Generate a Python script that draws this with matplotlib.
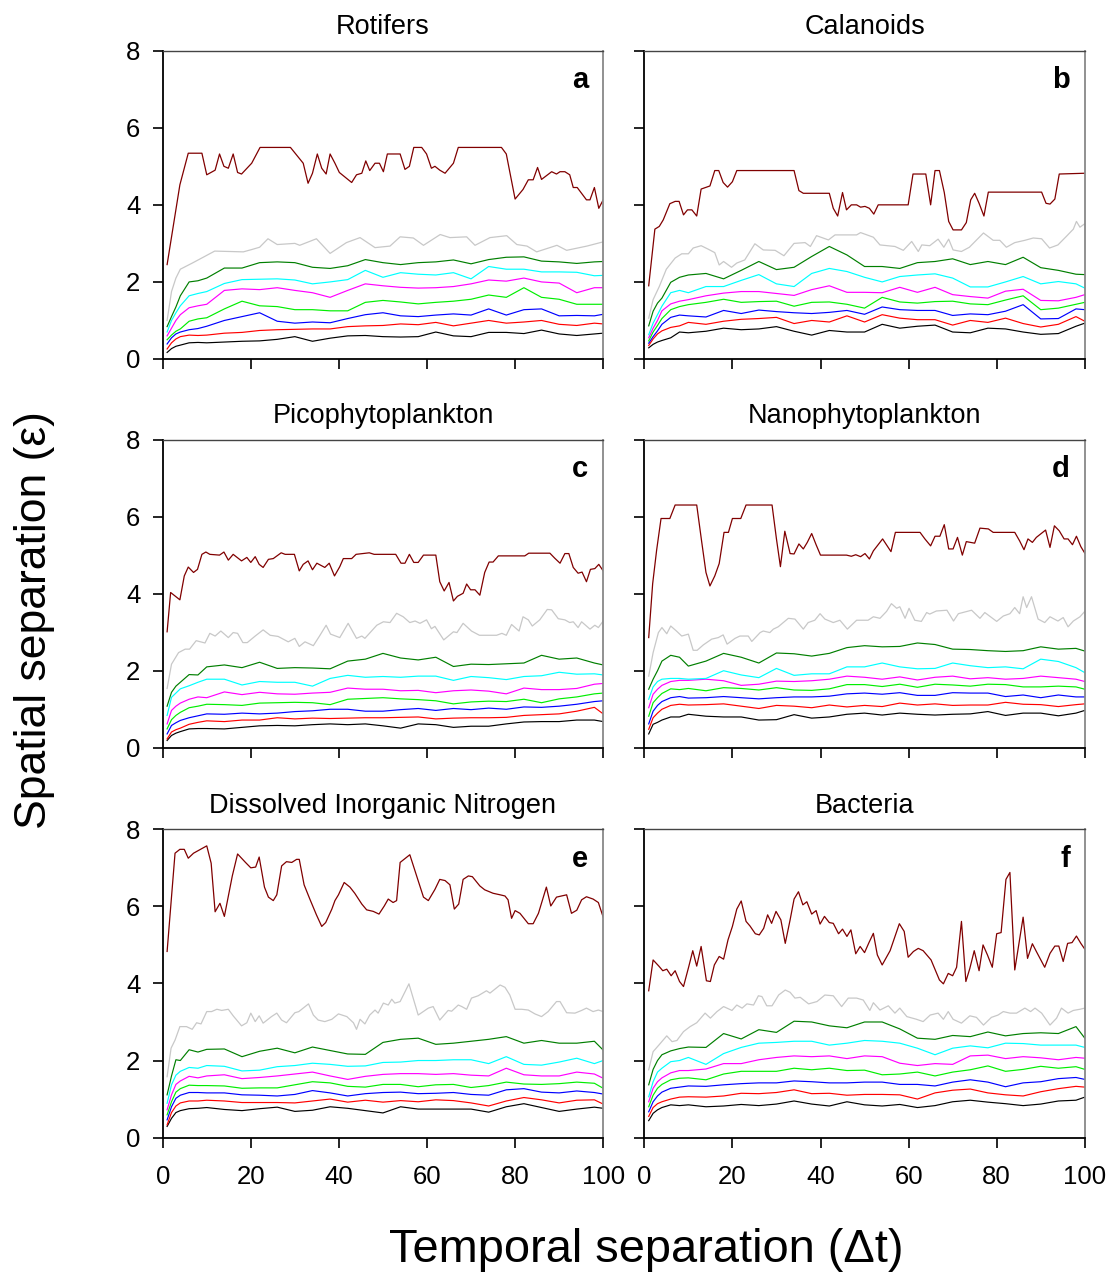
import matplotlib
matplotlib.use("Agg")
import matplotlib.pyplot as plt

plt.rcParams['font.family'] = ['Liberation Sans', 'DejaVu Sans']

# Common x grid for the seven lower series (temporal separation)
X = [1, 2, 3, 4, 6, 8, 10, 14, 18, 22, 26, 30, 34, 38, 42, 46, 50, 54, 58, 62,
     66, 70, 74, 78, 82, 86, 90, 94, 98, 100]

titles = ["Rotifers", "Calanoids", "Picophytoplankton", "Nanophytoplankton",
          "Dissolved Inorganic Nitrogen", "Bacteria"]
letters = ["a", "b", "c", "d", "e", "f"]
xticks = [0, 20, 40, 60, 80, 100]
yticks = [0, 2, 4, 6, 8]

# ---------------- Panel a : Rotifers ----------------
a_k = [.17, .27, .33, .36, .42, .43, .42, .44, .46, .47, .51, .58, .46, .54, .6, .61, .58, .57, .58, .7, .6, .58, .69, .69, .66, .75, .65, .61, .65, .67]
a_r = [.26, .42, .52, .58, .62, .61, .62, .67, .69, .74, .76, .77, .78, .78, .84, .86, .87, .91, .89, .95, .86, .93, 1.0, .93, .96, 1.0, .9, .87, .93, .91]
a_b = [.39, .55, .65, .7, .76, .79, .85, 1.0, 1.1, 1.2, .98, .93, .96, .94, 1.05, 1.15, 1.2, 1.12, 1.1, 1.14, 1.17, 1.14, 1.3, 1.14, 1.28, 1.3, 1.12, 1.13, 1.12, 1.16]
a_g = [.5, .62, .72, .78, .98, 1.04, 1.07, 1.3, 1.5, 1.38, 1.36, 1.28, 1.28, 1.25, 1.25, 1.47, 1.52, 1.48, 1.43, 1.47, 1.5, 1.55, 1.66, 1.6, 1.85, 1.6, 1.55, 1.42, 1.42, 1.42]
a_m = [.6, .8, 1.0, 1.15, 1.33, 1.38, 1.42, 1.78, 1.82, 1.8, 1.85, 1.78, 1.72, 1.6, 1.78, 1.95, 1.9, 1.86, 1.84, 1.85, 1.88, 1.95, 2.05, 2.02, 2.1, 2.0, 1.97, 1.72, 1.85, 1.85]
a_c = [.7, 1.0, 1.2, 1.38, 1.64, 1.7, 1.75, 1.96, 2.06, 2.07, 2.08, 2.05, 1.95, 2.0, 2.06, 2.3, 2.12, 2.24, 2.2, 2.18, 2.24, 2.08, 2.4, 2.33, 2.33, 2.26, 2.26, 2.25, 2.16, 2.17]
a_dg = [.84, 1.1, 1.35, 1.64, 2.0, 2.03, 2.1, 2.36, 2.36, 2.5, 2.52, 2.5, 2.38, 2.35, 2.42, 2.58, 2.5, 2.45, 2.5, 2.52, 2.57, 2.47, 2.58, 2.64, 2.65, 2.54, 2.52, 2.48, 2.52, 2.53]
a_gy_x = [1, 2, 3, 4, 6.9, 11.8, 18.3, 20.2, 22, 23.9, 26, 30, 31.1, 34.9, 38, 41.7, 44.8, 48.2, 51.6, 53.9, 56.9, 59.2, 63, 65.2, 69, 70.9, 74.3, 78.1, 80.4, 82.7, 84.9, 89.5, 91.7, 96.3, 100]
a_gy_y = [1.0, 1.75, 2.1, 2.33, 2.5, 2.8, 2.78, 2.84, 2.9, 3.12, 2.97, 3.0, 2.95, 3.12, 2.74, 3.02, 3.15, 2.89, 2.93, 3.17, 3.14, 2.95, 3.23, 3.15, 3.17, 2.95, 3.15, 3.2, 2.97, 2.93, 2.78, 2.95, 2.82, 2.93, 3.04]
a_dr_x = [1, 3.9, 5.8, 8.9, 10, 11.9, 12.9, 13.9, 14.9, 16, 17, 17.9, 20.2, 22.1, 29, 31.9, 33, 34, 35.1, 36.1, 37.1, 38, 39.1, 40.1, 42.9, 44, 45.2, 46.1, 47, 48.2, 49.2, 50.1, 51, 53.9, 55, 56, 57, 58.8, 59.9, 61, 61.8, 62.9, 64.1, 66, 67.1, 76.9, 78, 80, 81.8, 83, 84.1, 85.1, 86, 88.3, 89.4, 90.2, 91.3, 92.4, 93.2, 94.1, 96.2, 97, 98, 99, 100]
a_dr_y = [2.45, 4.52, 5.34, 5.34, 4.78, 4.9, 5.32, 5.0, 4.95, 5.32, 4.84, 4.8, 5.08, 5.49, 5.49, 5.08, 4.56, 4.82, 5.32, 4.95, 4.8, 5.32, 5.08, 4.84, 4.58, 4.78, 4.82, 5.14, 4.89, 5.08, 5.08, 4.86, 5.32, 5.32, 4.92, 5.0, 5.49, 5.49, 5.32, 4.95, 5.0, 4.9, 4.82, 5.08, 5.49, 5.49, 5.32, 4.15, 4.4, 4.65, 4.65, 4.97, 4.66, 4.86, 4.8, 4.86, 4.86, 4.78, 4.45, 4.45, 4.13, 4.13, 4.45, 3.91, 4.13]

# ---------------- Panel b : Calanoids ----------------
b_k = [.29, .38, .44, .48, .55, .7, .68, .72, .8, .76, .78, .84, .72, .62, .74, .7, .7, .9, .8, .85, .88, .7, .68, .8, .78, .7, .64, .66, .85, .93]
b_r = [.35, .52, .65, .73, .82, .86, .95, .9, .98, 1.03, 1.05, 1.08, .92, 1.0, .96, 1.12, .96, 1.15, 1.06, 1.02, 1.02, .88, 1.0, .95, 1.06, .92, .83, .9, 1.1, .98]
b_b = [.41, .58, .73, .9, 1.08, 1.14, 1.12, 1.09, 1.26, 1.18, 1.27, 1.23, 1.2, 1.18, 1.21, 1.26, 1.16, 1.35, 1.28, 1.26, 1.26, 1.13, 1.17, 1.15, 1.24, 1.41, 1.04, 1.05, 1.3, 1.28]
b_g = [.47, .7, .87, 1.05, 1.28, 1.36, 1.41, 1.47, 1.55, 1.47, 1.49, 1.5, 1.37, 1.47, 1.48, 1.42, 1.32, 1.6, 1.48, 1.45, 1.49, 1.5, 1.43, 1.41, 1.53, 1.64, 1.28, 1.32, 1.42, 1.47]
b_m = [.55, .8, 1.0, 1.25, 1.43, 1.5, 1.54, 1.64, 1.71, 1.75, 1.75, 1.7, 1.65, 1.8, 1.9, 1.73, 1.73, 1.72, 1.86, 1.73, 1.86, 1.67, 1.62, 1.58, 1.76, 1.81, 1.52, 1.51, 1.6, 1.67]
b_c = [.63, .93, 1.15, 1.37, 1.72, 1.78, 1.72, 1.88, 1.88, 2.04, 2.19, 1.95, 1.88, 2.22, 2.35, 2.27, 2.12, 2.0, 2.14, 2.18, 2.21, 2.1, 1.87, 1.87, 2.0, 2.14, 1.95, 2.01, 1.95, 1.84]
b_dg = [.86, 1.24, 1.45, 1.58, 1.99, 2.12, 2.18, 2.22, 2.08, 2.3, 2.53, 2.32, 2.38, 2.66, 2.92, 2.7, 2.4, 2.4, 2.35, 2.5, 2.53, 2.6, 2.45, 2.53, 2.45, 2.64, 2.37, 2.3, 2.2, 2.19]
b_gy_x = [1, 2, 3.4, 5, 7, 8.5, 10, 11.1, 12.9, 14.5, 16, 17, 18, 19.8, 21, 22.8, 25.1, 27, 29.7, 31.7, 34, 36.5, 37.7, 39.1, 41.8, 43.3, 48.2, 49.1, 52, 53.5, 56.9, 58.8, 60.7, 62.2, 63, 64.8, 66.7, 68, 69.1, 70.1, 72, 73.8, 77, 79.2, 80.7, 82.2, 84.1, 86.4, 88.3, 90.2, 92, 93.9, 95.8, 97.4, 98.1, 98.9, 100]
b_gy_y = [1.06, 1.54, 1.88, 2.33, 2.62, 2.73, 2.73, 2.88, 2.94, 2.85, 2.76, 2.44, 2.53, 2.38, 2.49, 2.57, 2.99, 2.83, 2.82, 2.68, 3.0, 3.02, 2.92, 3.2, 3.09, 3.22, 3.22, 3.28, 3.16, 2.96, 2.92, 2.82, 3.05, 2.79, 2.96, 2.94, 3.11, 2.9, 3.11, 2.83, 2.79, 2.9, 3.27, 3.08, 3.08, 2.9, 3.02, 3.08, 3.14, 3.12, 2.88, 2.96, 3.18, 3.37, 3.57, 3.42, 3.51]
b_dr_x = [1, 2.4, 3.4, 4.3, 5.8, 7, 7.9, 8.9, 9.8, 10.8, 11.9, 12.9, 14.9, 16, 16.9, 17.9, 18.9, 20, 21, 34, 35.1, 36.1, 42, 42.9, 43.9, 45, 45.9, 47, 48.2, 49.1, 50.1, 51.1, 52.1, 53.1, 59.9, 61, 63.9, 65, 66, 67, 68.1, 69.1, 70.1, 72, 73.1, 74.1, 75, 76, 77.1, 78.1, 90.2, 91.2, 92.1, 93.2, 94.2, 100]
b_dr_y = [1.9, 3.37, 3.44, 3.61, 4.03, 4.09, 4.09, 3.74, 3.87, 3.87, 3.71, 4.41, 4.49, 4.89, 4.89, 4.58, 4.46, 4.6, 4.89, 4.89, 4.37, 4.3, 4.3, 3.91, 3.71, 4.32, 3.87, 4.0, 4.0, 3.94, 3.96, 3.91, 3.76, 4.0, 4.0, 4.8, 4.8, 4.0, 4.89, 4.89, 4.32, 3.57, 3.35, 3.35, 3.54, 4.13, 4.3, 4.04, 3.71, 4.33, 4.33, 4.04, 4.02, 4.15, 4.8, 4.82]

# ---------------- Panel c : Picophytoplankton ----------------
c_k = [.19, .32, .38, .42, .49, .5, .5, .49, .53, .57, .58, .57, .6, .62, .6, .62, .57, .51, .62, .6, .53, .56, .56, .62, .67, .68, .68, .72, .72, .68]
c_r = [.23, .41, .47, .51, .61, .66, .7, .68, .72, .72, .78, .75, .77, .76, .77, .78, .78, .79, .8, .75, .77, .78, .78, .79, .84, .86, .88, .95, 1.05, .88]
c_b = [.36, .58, .65, .71, .78, .83, .88, .87, .9, .88, .9, .94, .96, 1.0, 1.0, .95, .95, .99, 1.02, .97, 1.02, .99, 1.03, 1.0, 1.06, 1.05, 1.08, 1.13, 1.2, 1.22]
c_g = [.49, .73, .84, .92, 1.04, 1.08, 1.13, 1.12, 1.1, 1.16, 1.17, 1.18, 1.17, 1.12, 1.26, 1.28, 1.3, 1.27, 1.25, 1.22, 1.14, 1.19, 1.21, 1.2, 1.26, 1.17, 1.27, 1.32, 1.4, 1.42]
c_m = [.62, .97, 1.08, 1.16, 1.26, 1.32, 1.3, 1.45, 1.38, 1.44, 1.4, 1.39, 1.42, 1.44, 1.55, 1.52, 1.52, 1.48, 1.49, 1.43, 1.48, 1.5, 1.47, 1.4, 1.55, 1.51, 1.51, 1.54, 1.65, 1.67]
c_c = [.84, 1.31, 1.42, 1.53, 1.61, 1.7, 1.78, 1.78, 1.63, 1.72, 1.7, 1.7, 1.6, 1.8, 1.88, 1.83, 1.85, 1.83, 1.86, 1.86, 1.75, 1.85, 1.82, 1.77, 1.85, 1.87, 1.96, 1.91, 1.92, 1.89]
c_dg = [1.08, 1.44, 1.6, 1.7, 1.9, 1.89, 2.1, 2.15, 2.08, 2.22, 2.06, 2.08, 2.07, 2.05, 2.25, 2.3, 2.45, 2.33, 2.28, 2.35, 2.11, 2.17, 2.16, 2.18, 2.2, 2.4, 2.3, 2.33, 2.2, 2.15]
c_gy_x = [1, 2, 3.6, 5.1, 6.1, 7.6, 9.6, 10.7, 11.9, 13.2, 14.9, 16, 17, 18.2, 19.2, 21, 22.8, 24.4, 26.2, 28.5, 30, 31, 32.3, 34.2, 35.6, 37.1, 38.1, 40.2, 42.1, 44, 45.2, 45.9, 48.6, 50.1, 51.6, 53.1, 54.6, 56.1, 57.3, 58.4, 59.9, 61, 61.8, 63.8, 66, 66.8, 68.2, 70.1, 71.9, 75.8, 77, 78, 79.2, 80.9, 81.8, 83, 83.9, 85.6, 87.3, 88.3, 89.8, 91.3, 92.4, 93.2, 94.3, 95.1, 97, 98.1, 98.9, 100]
c_gy_y = [1.54, 2.17, 2.47, 2.56, 2.56, 2.78, 2.72, 2.97, 2.9, 3.03, 2.86, 2.99, 2.97, 2.73, 2.73, 2.9, 3.06, 2.92, 2.89, 2.75, 2.84, 2.63, 2.75, 2.65, 2.9, 3.18, 2.95, 2.86, 3.23, 2.84, 2.9, 2.84, 3.18, 3.27, 3.25, 3.49, 3.4, 3.25, 3.29, 3.23, 3.32, 3.09, 3.15, 2.8, 3.01, 2.99, 3.23, 3.03, 2.92, 2.92, 2.97, 2.92, 3.2, 3.03, 3.4, 3.32, 3.16, 3.32, 3.59, 3.58, 3.35, 3.32, 3.25, 3.27, 3.12, 3.27, 3.08, 3.18, 3.12, 3.29]
c_dr_x = [1, 1.8, 3.9, 4.9, 5.8, 7, 7.9, 8.9, 9.8, 10.7, 12.9, 13.9, 14.9, 16, 17.9, 19.1, 20, 21, 21.9, 22.8, 24, 25.1, 26.9, 27.8, 29.9, 31, 31.9, 33, 34, 35, 36.8, 37.8, 39, 40.2, 41, 42.9, 43.9, 46.9, 48, 52.9, 54.1, 55, 56, 57, 58, 59.2, 62, 62.9, 63.9, 65, 66, 66.9, 68.2, 69, 69.9, 70.9, 72, 73.1, 74.1, 75, 76.2, 82.2, 83.1, 87.9, 89, 90.2, 91.3, 92.2, 93.2, 94.3, 95.2, 96.2, 97.1, 98.1, 99, 100]
c_dr_y = [3.01, 4.03, 3.84, 4.46, 4.69, 4.55, 4.63, 5.02, 5.08, 5.02, 5.0, 5.08, 4.87, 5.02, 4.85, 4.94, 4.81, 4.96, 4.76, 4.68, 4.89, 4.91, 5.06, 5.02, 5.02, 4.59, 4.76, 4.85, 4.62, 4.79, 4.68, 4.79, 4.46, 4.7, 4.91, 4.91, 5.02, 5.06, 5.02, 5.02, 4.79, 4.79, 5.02, 4.81, 4.81, 5.0, 5.0, 4.31, 4.07, 4.29, 3.81, 3.93, 4.01, 4.25, 4.1, 4.1, 3.96, 4.55, 4.82, 4.82, 4.98, 4.98, 5.05, 5.05, 4.92, 4.79, 5.04, 5.04, 4.68, 4.53, 4.56, 4.31, 4.63, 4.65, 4.76, 4.59]

# ---------------- Panel d : Nanophytoplankton ----------------
d_k = [.36, .61, .66, .72, .8, .8, .87, .82, .8, .8, .72, .73, .86, .77, .8, .87, .9, .85, .9, .87, .85, .87, .88, .94, .84, .9, .9, .83, .9, .97]
d_r = [.48, .78, .9, 1.0, 1.1, 1.13, 1.11, 1.12, 1.14, 1.08, 1.02, 1.1, 1.08, 1.04, 1.11, 1.06, 1.1, 1.07, 1.16, 1.11, 1.14, 1.1, 1.11, 1.11, 1.18, 1.13, 1.12, 1.07, 1.12, 1.14]
d_b = [.62, .95, 1.1, 1.2, 1.3, 1.33, 1.29, 1.3, 1.33, 1.3, 1.27, 1.3, 1.32, 1.32, 1.34, 1.4, 1.42, 1.39, 1.43, 1.36, 1.36, 1.43, 1.42, 1.42, 1.33, 1.37, 1.3, 1.37, 1.32, 1.32]
d_g = [.82, 1.17, 1.3, 1.41, 1.53, 1.51, 1.54, 1.48, 1.56, 1.54, 1.5, 1.56, 1.5, 1.49, 1.53, 1.64, 1.64, 1.59, 1.65, 1.57, 1.65, 1.63, 1.6, 1.65, 1.64, 1.58, 1.58, 1.6, 1.58, 1.52]
d_m = [1.04, 1.39, 1.52, 1.62, 1.72, 1.75, 1.75, 1.78, 1.74, 1.62, 1.65, 1.73, 1.72, 1.74, 1.78, 1.86, 1.83, 1.78, 1.84, 1.76, 1.83, 1.86, 1.79, 1.82, 1.78, 1.8, 1.86, 1.82, 1.78, 1.72]
d_c = [1.26, 1.58, 1.72, 1.78, 1.8, 1.8, 1.78, 1.8, 2.0, 1.89, 1.82, 2.06, 1.88, 1.92, 1.92, 2.1, 2.1, 2.2, 2.1, 2.05, 2.06, 2.2, 2.13, 2.08, 2.1, 2.05, 2.3, 2.24, 2.08, 1.95]
d_dg = [1.52, 1.78, 2.0, 2.25, 2.4, 2.35, 2.12, 2.25, 2.45, 2.35, 2.2, 2.46, 2.44, 2.38, 2.45, 2.6, 2.65, 2.62, 2.63, 2.72, 2.68, 2.56, 2.55, 2.52, 2.5, 2.52, 2.62, 2.56, 2.58, 2.51]
d_gy_x = [1, 2, 3.2, 4, 5.1, 6, 7.3, 8.5, 10, 11.1, 12, 13.4, 15.3, 16.8, 17.9, 18.8, 20.6, 21.7, 23.6, 24.4, 26.3, 27, 28.5, 29.3, 30.4, 32.7, 34.2, 36.1, 37.2, 38.7, 39.9, 41, 42.9, 44.4, 46.1, 48.2, 50.8, 52, 53.5, 55, 56.1, 57.3, 58, 59.2, 60.1, 61.4, 62.9, 64.1, 64.8, 66.3, 68.7, 70.2, 71.3, 74.3, 76.2, 77.3, 80, 81.5, 83, 84.1, 85.2, 86, 86.8, 87.9, 89.4, 90.9, 92.1, 93.9, 95.1, 96.2, 97.4, 98.9, 100]
d_gy_y = [1.86, 2.47, 2.99, 3.12, 2.96, 3.16, 3.03, 2.9, 2.95, 2.53, 2.53, 2.67, 2.82, 2.86, 2.93, 2.69, 2.84, 2.9, 2.9, 2.76, 2.99, 3.03, 2.99, 3.08, 3.14, 3.36, 3.34, 3.08, 3.25, 3.31, 3.48, 3.34, 3.25, 3.31, 3.08, 3.31, 3.31, 3.4, 3.36, 3.54, 3.74, 3.62, 3.66, 3.36, 3.62, 3.31, 3.28, 3.51, 3.47, 3.55, 3.57, 3.29, 3.48, 3.57, 3.36, 3.51, 3.28, 3.42, 3.48, 3.64, 3.48, 3.92, 3.64, 3.92, 3.34, 3.25, 3.4, 3.29, 3.38, 3.14, 3.29, 3.4, 3.54]
d_dr_x = [1, 1.9, 2.8, 3.8, 5.8, 7, 11.9, 13, 14, 14.9, 16, 17, 18.1, 19.1, 20, 21.9, 23.1, 29, 30, 30.9, 31.9, 33.1, 34, 35.1, 36.1, 37, 38, 39, 40, 45.9, 47, 48, 49.1, 50.1, 51.1, 52, 54.1, 56, 57, 62.6, 63.7, 65, 66, 67.1, 68.1, 69.1, 70.1, 71.1, 72.2, 73.1, 75, 76.2, 78.1, 79.2, 84.1, 85.2, 86.2, 87.1, 88.1, 89, 91.1, 92.1, 93.1, 94.2, 95.3, 96.2, 97.2, 98.1, 99.1, 100]
d_dr_y = [2.86, 4.26, 5.13, 5.95, 5.95, 6.3, 6.3, 5.37, 4.55, 4.2, 4.46, 4.78, 5.59, 5.59, 5.95, 5.95, 6.3, 6.3, 5.42, 4.7, 5.62, 5.04, 5.03, 5.29, 5.16, 5.33, 5.56, 5.27, 5.0, 5.0, 4.97, 5.01, 4.96, 5.04, 4.9, 5.11, 5.42, 5.09, 5.59, 5.59, 5.42, 5.24, 5.49, 5.49, 5.79, 5.16, 5.16, 5.46, 5.0, 5.35, 5.31, 5.7, 5.68, 5.59, 5.59, 5.37, 5.14, 5.42, 5.33, 5.46, 5.65, 5.2, 5.76, 5.63, 5.42, 5.42, 5.27, 5.49, 5.22, 5.05]

# ---------------- Panel e : Dissolved Inorganic Nitrogen ----------------
e_k = [.29, .5, .65, .7, .75, .76, .78, .73, .7, .75, .79, .68, .71, .8, .76, .7, .64, .8, .74, .74, .74, .74, .66, .8, .88, .78, .68, .74, .79, .76]
e_r = [.33, .65, .82, .9, .95, .95, .97, .95, .91, .91, .91, .9, .95, 1.0, .92, .97, .92, .96, .93, .98, .96, .9, .82, .95, 1.04, .98, .9, .97, .98, .87]
e_b = [.46, .8, 1.02, 1.1, 1.17, 1.17, 1.16, 1.16, 1.11, 1.1, 1.08, 1.12, 1.22, 1.16, 1.08, 1.14, 1.17, 1.18, 1.14, 1.15, 1.17, 1.12, 1.1, 1.24, 1.27, 1.18, 1.16, 1.21, 1.17, 1.13]
e_g = [.59, .93, 1.18, 1.27, 1.36, 1.35, 1.35, 1.34, 1.28, 1.29, 1.29, 1.37, 1.45, 1.42, 1.33, 1.31, 1.38, 1.38, 1.32, 1.37, 1.38, 1.3, 1.35, 1.44, 1.39, 1.38, 1.4, 1.44, 1.41, 1.28]
e_m = [.72, 1.11, 1.38, 1.47, 1.59, 1.55, 1.6, 1.63, 1.53, 1.56, 1.6, 1.65, 1.7, 1.6, 1.51, 1.59, 1.64, 1.66, 1.66, 1.64, 1.66, 1.62, 1.6, 1.8, 1.63, 1.6, 1.6, 1.7, 1.65, 1.54]
e_c = [.89, 1.37, 1.62, 1.72, 1.82, 1.8, 1.87, 1.85, 1.73, 1.75, 1.84, 1.87, 1.93, 1.9, 1.85, 1.86, 1.95, 1.96, 2.0, 2.0, 2.02, 2.02, 1.92, 2.1, 1.9, 1.88, 1.96, 2.06, 1.92, 2.0]
e_dg = [1.11, 1.6, 2.02, 2.0, 2.28, 2.22, 2.29, 2.3, 2.1, 2.24, 2.32, 2.2, 2.35, 2.26, 2.17, 2.16, 2.47, 2.55, 2.58, 2.42, 2.45, 2.5, 2.55, 2.62, 2.45, 2.52, 2.45, 2.45, 2.5, 2.27]
e_gy_x = [1, 1.9, 2.8, 3.9, 5.4, 6.7, 7.7, 8.7, 10, 11.1, 12.3, 13.4, 14.9, 16, 17.9, 19.1, 20, 21, 21.9, 22.8, 24.7, 25.9, 27, 28.1, 30, 30.9, 33.1, 34.2, 35.3, 36.8, 38.4, 39.9, 41.8, 43.3, 44, 44.8, 45.9, 47, 48.2, 48.9, 50.1, 51.2, 52, 52.7, 53.9, 55.9, 58, 60.3, 61.4, 62.9, 64.8, 65.6, 67.1, 67.9, 69, 70.1, 71.6, 73.5, 74.3, 75.4, 76.6, 77.7, 78.8, 80, 81.5, 83, 84.5, 86, 87.5, 89.4, 90.2, 91.7, 93.6, 95.1, 96.2, 97.7, 98.9, 100]
e_gy_y = [1.58, 2.32, 2.53, 2.88, 2.88, 2.81, 2.98, 2.95, 3.27, 3.27, 3.33, 3.3, 3.33, 3.16, 2.9, 2.98, 3.23, 3.01, 3.16, 2.97, 3.14, 3.23, 3.05, 2.98, 3.24, 3.27, 3.47, 3.18, 3.05, 3.01, 3.07, 3.21, 3.14, 2.98, 2.81, 3.07, 2.95, 3.18, 3.31, 3.23, 3.49, 3.44, 3.59, 3.49, 3.53, 3.99, 3.18, 3.36, 3.4, 3.05, 3.3, 3.28, 3.44, 3.4, 3.33, 3.62, 3.68, 3.81, 3.75, 3.85, 3.96, 3.9, 3.7, 3.33, 3.33, 3.31, 3.21, 3.14, 3.27, 3.53, 3.53, 3.24, 3.23, 3.3, 3.36, 3.27, 3.31, 3.27]
e_dr_x = [1, 2.8, 3.9, 4.9, 5.8, 7, 10, 11, 11.9, 13, 14, 15.8, 17, 18.8, 20, 21.1, 21.9, 23.1, 24, 25.1, 25.9, 27, 28.1, 29.3, 30.4, 31, 32.1, 33.4, 34.9, 36.1, 37, 38.4, 39.1, 39.9, 41.2, 42.5, 43.6, 45.2, 46.3, 47.8, 49.1, 50.3, 51.2, 52.3, 53.1, 53.9, 56.1, 57.9, 59.2, 60.3, 61.8, 62.9, 64.1, 65.2, 66.2, 67.2, 68.2, 69.4, 70.3, 72, 73.1, 75, 76.6, 77.7, 78.4, 79.2, 80, 81.1, 83, 84.1, 85.3, 87.1, 88.1, 89.4, 91.7, 92.8, 94, 95.1, 96.2, 97.7, 98.9, 100]
e_dr_y = [4.83, 7.38, 7.48, 7.48, 7.25, 7.38, 7.57, 7.12, 5.86, 6.08, 5.74, 6.79, 7.36, 7.14, 7.0, 7.02, 7.28, 6.5, 6.24, 6.15, 6.3, 7.05, 7.16, 7.14, 7.22, 7.22, 6.56, 6.19, 5.78, 5.48, 5.58, 5.93, 6.15, 6.3, 6.62, 6.5, 6.34, 6.06, 5.91, 5.87, 5.8, 6.01, 6.19, 6.1, 6.15, 7.14, 7.34, 6.7, 6.24, 6.15, 6.44, 6.7, 6.67, 6.56, 5.93, 6.06, 6.7, 6.79, 6.77, 6.53, 6.43, 6.34, 6.3, 6.27, 6.17, 5.69, 5.89, 5.82, 5.55, 5.55, 5.82, 6.5, 6.01, 6.24, 6.3, 5.82, 5.9, 6.17, 6.25, 6.19, 6.1, 5.72]

# ---------------- Panel f : Bacteria ----------------
f_k = [.44, .63, .72, .78, .85, .83, .85, .8, .82, .86, .83, .87, .95, .87, .82, .93, .85, .82, .86, .78, .83, .93, .97, .92, .88, .83, .87, .95, .97, 1.05]
f_r = [.55, .78, .88, .93, 1.0, 1.05, 1.06, 1.05, 1.08, 1.15, 1.14, 1.17, 1.24, 1.14, 1.15, 1.1, 1.12, 1.12, 1.11, 1.0, 1.16, 1.23, 1.26, 1.16, 1.11, 1.08, 1.19, 1.27, 1.33, 1.31]
f_b = [.67, .93, 1.08, 1.18, 1.28, 1.31, 1.34, 1.33, 1.37, 1.4, 1.42, 1.42, 1.47, 1.45, 1.42, 1.42, 1.44, 1.44, 1.38, 1.38, 1.34, 1.44, 1.5, 1.44, 1.32, 1.42, 1.45, 1.53, 1.56, 1.51]
f_g = [.8, 1.1, 1.28, 1.38, 1.5, 1.54, 1.55, 1.5, 1.65, 1.72, 1.72, 1.72, 1.8, 1.76, 1.8, 1.74, 1.75, 1.63, 1.65, 1.7, 1.6, 1.7, 1.76, 1.86, 1.72, 1.77, 1.85, 1.8, 1.84, 1.77]
f_m = [.93, 1.28, 1.45, 1.55, 1.68, 1.74, 1.74, 1.78, 1.92, 1.92, 2.02, 2.08, 2.12, 2.1, 2.12, 2.05, 2.12, 2.1, 1.93, 1.87, 1.92, 1.9, 2.12, 2.14, 2.05, 2.1, 2.07, 2.02, 2.08, 2.06]
f_c = [1.06, 1.45, 1.7, 1.8, 1.97, 2.0, 2.08, 1.9, 2.18, 2.34, 2.45, 2.47, 2.5, 2.5, 2.4, 2.45, 2.52, 2.5, 2.45, 2.32, 2.15, 2.32, 2.38, 2.33, 2.45, 2.44, 2.4, 2.4, 2.4, 2.34]
f_dg = [1.37, 1.77, 2.0, 2.15, 2.25, 2.31, 2.35, 2.34, 2.7, 2.56, 2.8, 2.73, 3.02, 3.0, 2.9, 2.85, 3.0, 3.0, 2.82, 2.58, 2.55, 2.65, 2.62, 2.74, 2.64, 2.7, 2.72, 2.7, 2.88, 2.58]
f_gy_x = [1, 2, 3.3, 5.1, 6.3, 7.4, 8.9, 10.4, 11.9, 13.8, 15, 16.5, 18, 19.9, 21, 22.2, 23.3, 24.8, 25.9, 26.7, 27.8, 29, 30.5, 32, 33.1, 34.2, 35.4, 37.3, 39.2, 41, 42.9, 44.8, 46.3, 48.2, 49.7, 51.2, 52, 53.5, 55.4, 56.9, 58, 59.6, 61.8, 63.3, 64.9, 66.7, 67.9, 69, 70.1, 72, 73.9, 75.4, 77, 78.8, 80.3, 81.5, 83, 84.5, 86.4, 87.7, 88.7, 90.2, 92.1, 93.6, 94.7, 96.2, 97.4, 98.9, 100]
f_gy_y = [1.76, 2.23, 2.4, 2.64, 2.49, 2.52, 2.75, 2.88, 2.98, 3.23, 3.1, 3.27, 3.4, 3.3, 3.44, 3.36, 3.47, 3.44, 3.68, 3.66, 3.42, 3.42, 3.7, 3.83, 3.77, 3.62, 3.64, 3.47, 3.53, 3.7, 3.68, 3.4, 3.62, 3.62, 3.57, 3.3, 3.5, 3.31, 3.42, 3.23, 3.36, 3.14, 3.07, 3.01, 3.18, 3.23, 3.07, 3.27, 3.07, 2.97, 3.16, 3.12, 2.92, 3.12, 3.18, 3.27, 3.23, 3.23, 3.36, 3.27, 3.36, 3.23, 2.92, 3.1, 3.36, 3.23, 3.3, 3.33, 3.36]
f_dr_x = [1, 2, 3.3, 4.2, 5.1, 6.1, 7, 8, 8.9, 10.1, 11, 11.9, 12.9, 14.1, 15, 15.9, 17, 18, 19, 20, 21, 22, 23.1, 24, 25.2, 26.1, 27.1, 28, 28.9, 29.9, 31, 32, 33.1, 34, 35, 36, 36.9, 38, 39, 39.9, 40.9, 42, 42.9, 44.1, 45, 46, 46.9, 48, 49, 50, 51, 52, 52.9, 54, 55.8, 57.9, 59, 59.9, 61.1, 62.2, 63.3, 65.1, 67, 67.9, 69, 70, 70.9, 72, 73, 73.9, 74.9, 76, 76.9, 77.9, 79, 80, 81, 82.1, 83, 84.1, 86, 87, 88.1, 89, 90.9, 92.1, 93.2, 94.1, 95.1, 96.1, 97.1, 98.1, 99.1, 100]
f_dr_y = [3.81, 4.61, 4.45, 4.33, 4.37, 4.2, 4.33, 4.05, 3.92, 4.44, 4.85, 4.45, 4.96, 4.07, 4.05, 4.48, 4.7, 4.63, 5.13, 5.48, 5.93, 6.14, 5.61, 5.49, 5.29, 5.26, 5.43, 5.78, 5.56, 5.87, 5.65, 5.04, 5.65, 6.19, 6.38, 6.04, 6.12, 5.8, 5.89, 5.54, 5.74, 5.58, 5.56, 5.29, 5.41, 5.22, 5.39, 4.77, 4.96, 4.8, 5.06, 5.3, 4.74, 4.48, 4.85, 5.55, 5.35, 4.68, 4.83, 4.91, 4.85, 4.61, 4.09, 3.99, 4.26, 4.2, 4.42, 5.61, 4.05, 4.39, 4.85, 4.33, 5.0, 4.74, 4.42, 5.29, 5.32, 6.7, 6.88, 4.35, 5.72, 4.65, 5.03, 4.83, 4.42, 4.78, 4.97, 4.97, 4.57, 5.04, 5.06, 5.23, 5.04, 4.89]

lower_colors = ['#000000', '#ff0000', '#0000ff', '#00ee00', '#ff00ff', '#00ffff', '#007f00']
gray = '#c8c8c8'
darkred = '#800000'

panels = [
    ([a_k, a_r, a_b, a_g, a_m, a_c, a_dg], a_gy_x, a_gy_y, a_dr_x, a_dr_y),
    ([b_k, b_r, b_b, b_g, b_m, b_c, b_dg], b_gy_x, b_gy_y, b_dr_x, b_dr_y),
    ([c_k, c_r, c_b, c_g, c_m, c_c, c_dg], c_gy_x, c_gy_y, c_dr_x, c_dr_y),
    ([d_k, d_r, d_b, d_g, d_m, d_c, d_dg], d_gy_x, d_gy_y, d_dr_x, d_dr_y),
    ([e_k, e_r, e_b, e_g, e_m, e_c, e_dg], e_gy_x, e_gy_y, e_dr_x, e_dr_y),
    ([f_k, f_r, f_b, f_g, f_m, f_c, f_dg], f_gy_x, f_gy_y, f_dr_x, f_dr_y),
]

W, H = 1109, 1278
fig = plt.figure(figsize=(W / 100, H / 100), dpi=100)
fig.patch.set_facecolor('white')

lefts = [162.7, 644.3]
tops = [50.7, 439.5, 829.3]
aw, ah = 440.5, 308.3

for i, (series, gyx, gyy, drx, dry) in enumerate(panels):
    row, col = divmod(i, 2)
    l = lefts[col]
    t = tops[row]
    ax = fig.add_axes([l / W, 1 - (t + ah) / H, aw / W, ah / H])
    for ys, colr in zip(series, lower_colors):
        ax.plot(X, ys, color=colr, lw=0.85)
    ax.plot(gyx, gyy, color=gray, lw=0.9)
    ax.plot(drx, dry, color=darkred, lw=0.9)
    ax.set_xlim(0, 100)
    ax.set_ylim(0, 8)
    ax.set_xticks(xticks)
    ax.set_yticks(yticks)
    ax.tick_params(axis='both', direction='out', length=7, width=1.2,
                   labelsize=18.5, top=False, right=False)
    ax.tick_params(axis='y', pad=9)
    ax.tick_params(axis='x', pad=13)
    if row < 2:
        ax.set_xticklabels([])
    if col == 1:
        ax.set_yticklabels([])
    for s in ['left', 'bottom']:
        ax.spines[s].set_linewidth(1.3)
        ax.spines[s].set_color('black')
    ax.spines['top'].set_color('#444444')
    ax.spines['top'].set_linewidth(1.0)
    ax.spines['right'].set_color('#888888')
    ax.spines['right'].set_linewidth(1.3)
    ax.set_title(titles[i], fontsize=19.5, pad=12)
    ax.text(0.966, 0.878, letters[i], transform=ax.transAxes, ha='right',
            va='baseline', fontsize=21, fontweight='bold')

fig.text(646 / W, 1 - 1250 / H, "Temporal separation (\u0394t)", fontsize=33.8,
         ha='center', va='center')
fig.text(35 / W, 1 - 620 / H, "Spatial separation (\u03b5)", fontsize=32,
         ha='center', va='center', rotation=90)

fig.savefig('out.png', dpi=100, facecolor='white')
